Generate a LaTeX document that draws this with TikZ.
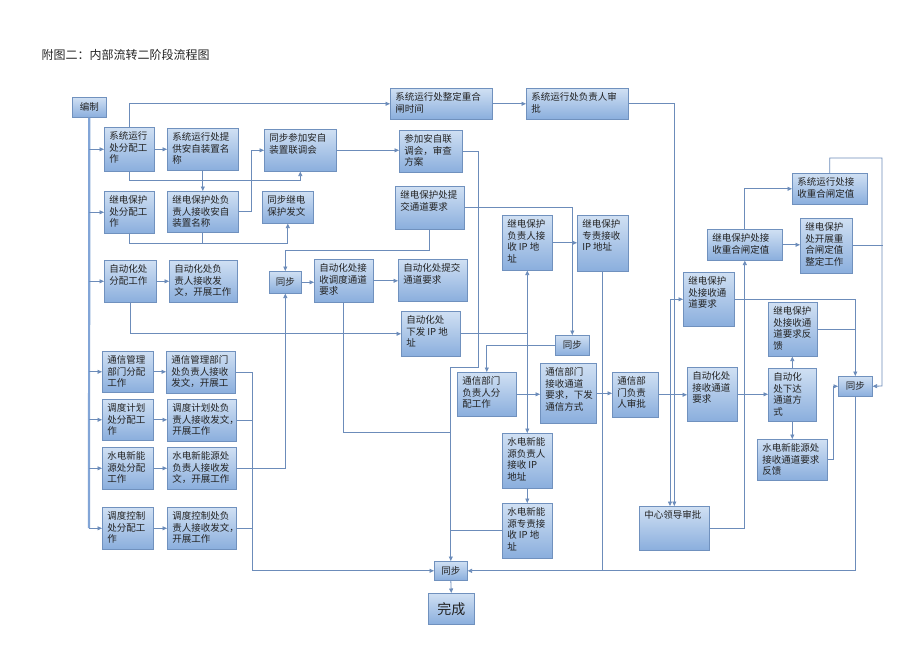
\documentclass[tikz,border=0pt]{standalone}
\usepackage{fontspec}
\setmainfont{Noto Sans CJK SC}
\usetikzlibrary{arrows.meta}
\definecolor{boxtop}{RGB}{208,224,243}
\definecolor{boxbot}{RGB}{138,174,221}
\definecolor{bordc}{RGB}{112,145,190}
\definecolor{linec}{RGB}{108,140,186}
\definecolor{trunkc}{RGB}{130,165,215}
\definecolor{txtc}{RGB}{35,35,35}
\tikzset{
  box/.style={draw=bordc, line width=0.6pt, top color=boxtop, bottom color=boxbot,
    inner sep=0pt, anchor=north west, text=txtc, font=\fontsize{9.5}{11.5}\selectfont},
  ln/.style={draw=linec, line width=0.8pt},
  arr/.style={ln, -{Triangle[length=4.5pt,width=4pt]}},
  trunk/.style={draw=trunkc, line width=2.2pt}
}
\newcommand{\bx}[6]{%
  \pgfmathsetmacro{\bxw}{#4-#2}%
  \pgfmathsetmacro{\bxh}{#5-#3}%
  \node[box, minimum width=\bxw pt, minimum height=\bxh pt] (#1) at (#2,#3)
    {\parbox[c][\bxh pt][t]{\dimexpr\bxw pt-10pt\relax}{\raggedright\vspace*{4.5pt}#6}};%
}
\newcommand{\cbx}[6]{%
  \pgfmathsetmacro{\bxw}{#4-#2}%
  \pgfmathsetmacro{\bxh}{#5-#3}%
  \node[box, minimum width=\bxw pt, minimum height=\bxh pt] (#1) at (#2,#3) {#6};%
}
\begin{document}
\begin{tikzpicture}[x=1pt, y=-1pt]
\fill[white] (0,0) rectangle (920,650);
\useasboundingbox (0,0) rectangle (920,650);

\node[anchor=west, font=\fontsize{12}{14}\selectfont, text=txtc] (title) at (38,55) {附图二：内部流转二阶段流程图};

% boxes
\cbx{b1}{72}{97}{106}{117}{编制}
\bx{b2}{104}{127}{154}{171}{系统运行\\处分配工\\作}
\bx{b3}{167}{128}{238}{170}{系统运行处提\\供安自装置名\\称}
\bx{b4}{264}{129}{336}{171}{同步参加安自\\装置联调会}
\bx{b5}{104}{191}{154}{233}{继电保护\\处分配工\\作}
\bx{b6}{167}{191}{238}{232}{继电保护处负\\责人接收安自\\装置名称}
\bx{b7}{262}{191}{313}{223}{同步继电\\保护发文}
\bx{b8}{390}{88}{492}{119}{系统运行处整定重合\\闸时间}
\bx{b9}{399}{130}{462}{172}{参加安自联\\调会，审查\\方案}
\bx{b10}{395}{186}{464}{229}{继电保护处提\\交通道要求}
\bx{b11}{526}{88}{628}{119}{系统运行处负责人审\\批}
\bx{b12}{502}{215}{552}{270}{继电保护\\负责人接\\收 IP 地\\址}
\bx{b13}{577}{215}{628}{271}{继电保护\\专责接收\\IP 地址}
\bx{b14}{792}{173}{867}{204}{系统运行处接\\收重合闸定值}
\bx{b15}{707}{229}{782}{260}{继电保护处接\\收重合闸定值}
\bx{b16}{800}{218}{852}{273}{继电保护\\处开展重\\合闸定值\\整定工作}
\bx{b17}{683}{272}{734}{326}{继电保护\\处接收通\\道要求}
\bx{b18}{768}{302}{817}{356}{继电保护\\处接收通\\道要求反\\馈}
\bx{b19}{104}{260}{156}{302}{自动化处\\分配工作}
\bx{b20}{169}{260}{237}{302}{自动化处负\\责人接收发\\文，开展工作}
\cbx{b21}{269}{271}{301}{293}{同步}
\bx{b22}{314}{259}{373}{302}{自动化处接\\收调度通道\\要求}
\bx{b23}{398}{259}{467}{301}{自动化处提交\\通道要求}
\bx{b24}{401}{311}{460}{356}{自动化处\\下发 IP 地\\址}
\cbx{b25}{555}{335}{589}{355}{同步}
\bx{b26}{457}{372}{516}{416}{通信部门\\负责人分\\配工作}
\bx{b27}{540}{363}{596}{423}{通信部门\\接收通道\\要求，下发\\通信方式}
\bx{b28}{612}{372}{658}{417}{通信部\\门负责\\人审批}
\bx{b29}{502}{433}{552}{488}{水电新能\\源负责人\\接收 IP\\地址}
\bx{b30}{502}{503}{552}{558}{水电新能\\源专责接\\收 IP 地\\址}
\bx{b31}{687}{367}{737}{421}{自动化处\\接收通道\\要求}
\bx{b32}{768}{368}{816}{421}{自动化\\处下达\\通道方\\式}
\bx{b33}{757}{439}{827}{480}{水电新能源处\\接收通道要求\\反馈}
\cbx{b34}{838}{376}{872}{396}{同步}
\bx{b35}{639}{506}{709}{550}{中心领导审批}
\bx{b36}{102}{351}{153}{392}{通信管理\\部门分配\\工作}
\bx{b37}{166}{351}{235}{393}{通信管理部门\\处负责人接收\\发文，开展工}
\bx{b38}{102}{399}{153}{440}{调度计划\\处分配工\\作}
\bx{b39}{167}{399}{236}{441}{调度计划处负\\责人接收发文，\\开展工作}
\bx{b40}{102}{447}{153}{489}{水电新能\\源处分配\\工作}
\bx{b41}{167}{447}{236}{489}{水电新能源处\\负责人接收发\\文，开展工作}
\bx{b42}{102}{507}{153}{549}{调度控制\\处分配工\\作}
\bx{b43}{167}{507}{236}{549}{调度控制处负\\责人接收发文，\\开展工作}
\cbx{b44}{434}{561}{467}{580}{同步}
\cbx{b45}{428}{593}{474}{624}{\fontsize{14}{16}\selectfont 完成}

% left trunk
\coordinate (tb) at (89,528);
\draw[trunk] (b1.south) -- (tb);
\foreach \n in {b2,b5,b19,b36,b38,b40,b42}{\draw[arr] (\n.west -| tb) -- (\n.west);}

% left column pairs
\draw[arr] (b2.east) -- (b3.west |- b2.east);
\draw[arr] (b19.east) -- (b20.west |- b19.east);
\draw[arr] (b36.east) -- (b37.west |- b36.east);
\draw[arr] (b38.east) -- (b39.west |- b38.east);
\draw[arr] (b40.east) -- (b41.west |- b40.east);
\draw[arr] (b42.east) -- (b43.west |- b42.east);

% upper area
\draw[arr] (b3.south) -- (b3.south |- b6.north);
\draw[arr] (b2.south) -- ++(0,9) -| (b4.south);
\draw[arr] (b6.east) -- ++(13,0) |- (b4.west);
\draw[arr] (b5.south) -- ++(0,10) -| (b7.south);
\draw[ln] (b6.south) -- ++(0,11);
\draw[arr] (b2.north) |- (b8.west);
\draw[arr] (b8.east) -- (b11.west);
\draw[arr] (b11.east) -| (b35.north);
\draw[arr] (b4.east) -- (b9.west |- b4.east);
\draw[arr] (b9.east) -| (478,367) -| (b44.north);
\draw[ln] (b22.south) |- (450.5,432);
\draw[ln] (b30.west) -- (b30.west -| b44.north);
\draw[arr] (b10.south) -- ++(0,21) -| (b21.north);
\draw[arr] (b10.east) -| (b25.north);
\draw[arr] (b21.east) -- (b22.west |- b21.east);
\draw[arr] (b22.east) -- (b23.west |- b22.east);
\draw[arr] (b41.east) -| (b21.south);
\draw[arr] (b19.south) |- (b24.west);
\draw[ln] (b24.east) -- (b24.east -| b12.south) coordinate (j1);
\draw[arr] (j1) -- (b12.south);
\draw[arr] (j1) -- (b29.north);
\draw[arr] (b12.east) -- (b13.west |- b12.east);
\draw[ln] (b13.south) -- (b13.south |- b44.east);
\draw[arr] (b29.south) -- (b30.north);

% communications
\draw[arr] (b25.west) -| (b26.north);
\draw[arr] (b26.east) -- (b27.west |- b26.east);
\draw[arr] (b27.east) -- (b28.west |- b27.east);
\draw[arr] (b28.east) -- (b31.west |- b28.east);
\coordinate (j2) at (670,394.5);
\draw[arr] (j2) |- (b17.west);
\draw[arr] (j2) -- (j2 |- b35.north);

% right area
\draw[arr] (b31.east) -- (b32.west |- b31.east);
\draw[arr] (b32.north) -- (b32.north |- b18.south);
\draw[arr] (b32.south) -- (b32.south |- b33.north);
\draw[arr] (b33.east) -- ++(6,0) |- (b34.west);
\draw[arr] (b17.east) -| (b34.north);
\draw[ln] (b18.east) -- (b18.east -| b34.north);
\draw[arr] (b35.east) -| (b15.south);
\draw[arr] (b15.east) -- (b16.west |- b15.east);
\draw[arr] (b15.north) |- (b14.west);
\draw[arr] (b14.north) -- ++(0,-15) -| (882,386) -- (b34.east);
\draw[ln] (b16.east) -- ++(30,0);
\draw[arr] (b34.south) |- (b44.east);

% lower left collector
\draw[arr] (b37.east) -- ++(17,0) coordinate (lb) |- (b44.west);
\draw[ln] (b39.east) -- (b39.east -| lb);
\draw[ln] (b43.east) -- (b43.east -| lb);
\draw[arr] (b44.south) -- (b45.north);
\end{tikzpicture}
\end{document}
